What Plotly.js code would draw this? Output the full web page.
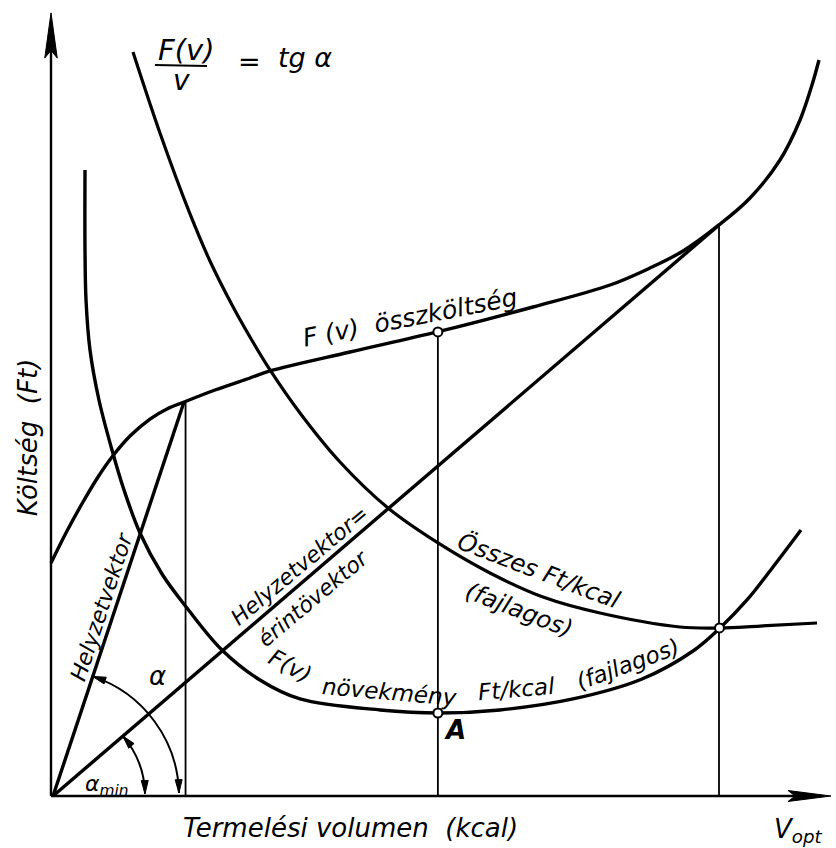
<!DOCTYPE html>
<html><head><meta charset="utf-8">
<script src="https://cdn.plot.ly/plotly-3.0.1.min.js"></script>
<style>html,body{margin:0;padding:0;background:#fff}#chart{width:836px;height:848px}</style>
</head><body><div id="chart"></div>
<script>
// F(v) összköltség (total cost) — volume units / cost units
const totalV = [0, 2.05, 4.10, 6.03, 7.82, 10.13, 12.69, 14.87, 17.05, 21.03, 25.51, 28.08, 38.33, 49.49, 61.79, 71.67, 76.79, 81.03, 85.64, 89.62, 93.46, 96.03, 97.56, 98.46];
const totalF = [29.87, 33.97, 37.69, 40.90, 43.46, 46.15, 48.33, 49.62, 50.51, 52.05, 53.59, 54.49, 56.92, 59.49, 62.69, 65.51, 67.69, 69.87, 73.21, 76.67, 81.54, 86.67, 91.15, 94.36];
// Összes Ft/kcal (average cost)
const avgV = [10.51, 13.97, 17.82, 20.38, 23.21, 25.51, 28.08, 31.92, 37.05, 43.21, 49.62, 56.28, 63.08, 70.38, 80.64, 85.77, 90.90, 98.21];
const avgF = [95.38, 85.0, 74.62, 68.59, 62.95, 58.85, 54.62, 49.10, 42.82, 36.92, 32.44, 28.59, 25.51, 23.46, 21.67, 21.54, 21.79, 22.18];
// F(v) növekmény Ft/kcal (marginal cost)
const margV = [4.36, 4.36, 4.49, 5.0, 6.15, 7.82, 9.36, 11.41, 14.23, 17.44, 21.92, 26.79, 31.92, 42.18, 49.74, 57.56, 66.92, 75.77, 82.31, 85.77, 89.23, 92.56, 96.15];
const margF = [80.26, 70.0, 63.59, 57.18, 50.77, 44.36, 39.23, 33.72, 28.46, 24.10, 18.72, 14.87, 12.44, 11.03, 10.64, 11.03, 12.44, 15.0, 18.59, 21.54, 25.13, 29.36, 34.10];
// Helyzetvektor and Helyzetvektor = érintővektor (rays from origin)
const rayOrigin = [0.26, 0];
const posVecEnd = [17.05, 50.51];
const tanVecEnd = [85.64, 73.21];
// vertical drop lines
const dropV = [17.25, 49.6, 85.64];
const dropTop = [50.51, 59.49, 73.21];
// marked points
const markV = [49.6, 49.6, 85.7];
const markF = [59.49, 10.64, 21.54];
// angle arcs: radius, start angle, end angle (degrees)
const arcR = [16.15, 11.8];
const arcFrom = [71.7, 40.8];
const arcTo = [1.4, 1.4];
// axes extents
const xMax = 100.0, yMax = 100.4;

const ink = '#000';
const base = {family: 'DejaVu Sans', style: 'italic', color: ink};
function f(size, extra) { return Object.assign({}, base, {size: size}, extra || {}); }

const traces = [
  {x: totalV, y: totalF, mode: 'lines', line: {color: ink, width: 3.4, shape: 'spline', smoothing: 1}},
  {x: avgV, y: avgF, mode: 'lines', line: {color: ink, width: 3.2, shape: 'spline', smoothing: 1}},
  {x: margV, y: margF, mode: 'lines', line: {color: ink, width: 3.4, shape: 'spline', smoothing: 1}},
  {x: [rayOrigin[0], posVecEnd[0]], y: [rayOrigin[1], posVecEnd[1]], mode: 'lines', line: {color: ink, width: 3.4}},
  {x: [rayOrigin[0], tanVecEnd[0]], y: [rayOrigin[1], tanVecEnd[1]], mode: 'lines', line: {color: ink, width: 3.4}}
];
dropV.forEach((v, i) => traces.push({x: [v, v], y: [0, dropTop[i]], mode: 'lines', line: {color: ink, width: 1.8}}));
traces.push({x: markV, y: markF, mode: 'markers', marker: {size: 9, color: '#fff', line: {color: ink, width: 2}}});

const shapes = [
  {type: 'line', xref: 'x', yref: 'y', x0: 0, y0: 0, x1: 0, y1: yMax - 3, line: {color: ink, width: 2.4}},
  {type: 'line', xref: 'x', yref: 'y', x0: 0, y0: 0, x1: xMax - 3, y1: 0, line: {color: ink, width: 2.4}},
  {type: 'path', xref: 'x', yref: 'y', path: `M -0.8,${yMax-5.8} L 0,${yMax} L 0.8,${yMax-5.8} L 0,${yMax-4.8} Z`, fillcolor: ink, line: {color: ink, width: 1}},
  {type: 'path', xref: 'x', yref: 'y', path: `M ${xMax-5.5},-0.7 L ${xMax},0 L ${xMax-5.5},0.7 L ${xMax-4.6},0 Z`, fillcolor: ink, line: {color: ink, width: 1}},
  // fraction bar
  {type: 'line', xref: 'x', yref: 'y', x0: 13.33, y0: 93.72, x1: 20.0, y1: 93.6, line: {color: ink, width: 2}}
];
const rad = d => d * Math.PI / 180;
function head(tip, d, n, L, w) {
  const b = [tip[0] - d[0] * L, tip[1] - d[1] * L];
  const c1 = [b[0] + n[0] * w, b[1] + n[1] * w];
  const c2 = [b[0] - n[0] * w, b[1] - n[1] * w];
  shapes.push({type: 'path', xref: 'x', yref: 'y', path: `M ${tip} L ${c1} L ${c2} Z`, fillcolor: ink, line: {color: ink, width: 1}});
}
arcR.forEach((r, i) => {
  const cx = rayOrigin[0], cy = rayOrigin[1];
  const a0 = rad(arcFrom[i]), a1 = rad(arcTo[i]);
  const k = 4 / 3 * Math.tan((a1 - a0) / 4);
  const p0 = [cx + r * Math.cos(a0), cy + r * Math.sin(a0)];
  const p3 = [cx + r * Math.cos(a1), cy + r * Math.sin(a1)];
  const p1 = [p0[0] - k * r * Math.sin(a0), p0[1] + k * r * Math.cos(a0)];
  const p2 = [p3[0] + k * r * Math.sin(a1), p3[1] - k * r * Math.cos(a1)];
  shapes.push({type: 'path', xref: 'x', yref: 'y', path: `M ${p0} C ${p1} ${p2} ${p3}`, line: {color: ink, width: 2}});
  head(p0, [-Math.sin(a0), Math.cos(a0)], [Math.cos(a0), Math.sin(a0)], 1.7, 0.45);
  head(p3, [Math.sin(a1), -Math.cos(a1)], [Math.cos(a1), Math.sin(a1)], 1.7, 0.45);
});
const annotations = [];
function label(text, x, y, size, angle, extra) {
  annotations.push({xref: 'x', yref: 'y', x: x, y: y, text: text, showarrow: false, textangle: angle || 0,
    xanchor: 'center', yanchor: 'middle', font: f(size, extra)});
}
label('F(v)', 17.37, 95.7, 29);
label('v', 16.67, 91.7, 28);
label('=', 25.45, 94.23, 27);
label('tg α', 32.56, 94.74, 27);
label('Költség  (Ft)', -2.95, 46.0, 26, -90);
label('Termelési volumen  (kcal)', 38.46, -4.1, 26);
label('V<sub>opt</sub>', 95.77, -4.36, 26);
label('F (v)  összköltség', 46.03, 61.4, 25, -11);
label('Helyzetvektor', 6.41, 24.23, 22, -71.7);
label('Helyzetvektor=', 31.92, 29.49, 22, -40);
label('érintövektor', 33.6, 25.3, 22, -40);
label('Összes Ft/kcal', 62.56, 28.85, 24, 21);
label('(fajlagos)', 60.0, 23.85, 24, 21);
label('F(v)', 30.7, 16.7, 23, 28);
label('növekmény', 43.46, 13.33, 23, 5);
label('Ft/kcal', 59.74, 13.72, 23, -5);
label('(fajlagos)', 73.97, 16.92, 23, -20);
label('<b>A</b>', 51.79, 8.46, 26);
label('α', 13.59, 15.38, 26);
label('α<sub>min</sub>', 7.18, 1.41, 22);

const layout = {
  width: 836, height: 848, margin: {l: 0, r: 0, t: 0, b: 0},
  paper_bgcolor: '#fff', plot_bgcolor: '#fff', showlegend: false,
  xaxis: {range: [-6.538, 100.64], visible: false, fixedrange: true},
  yaxis: {range: [-6.667, 102.05], visible: false, fixedrange: true},
  shapes: shapes, annotations: annotations
};
Plotly.newPlot('chart', traces, layout, {staticPlot: true});
</script>
</body></html>
